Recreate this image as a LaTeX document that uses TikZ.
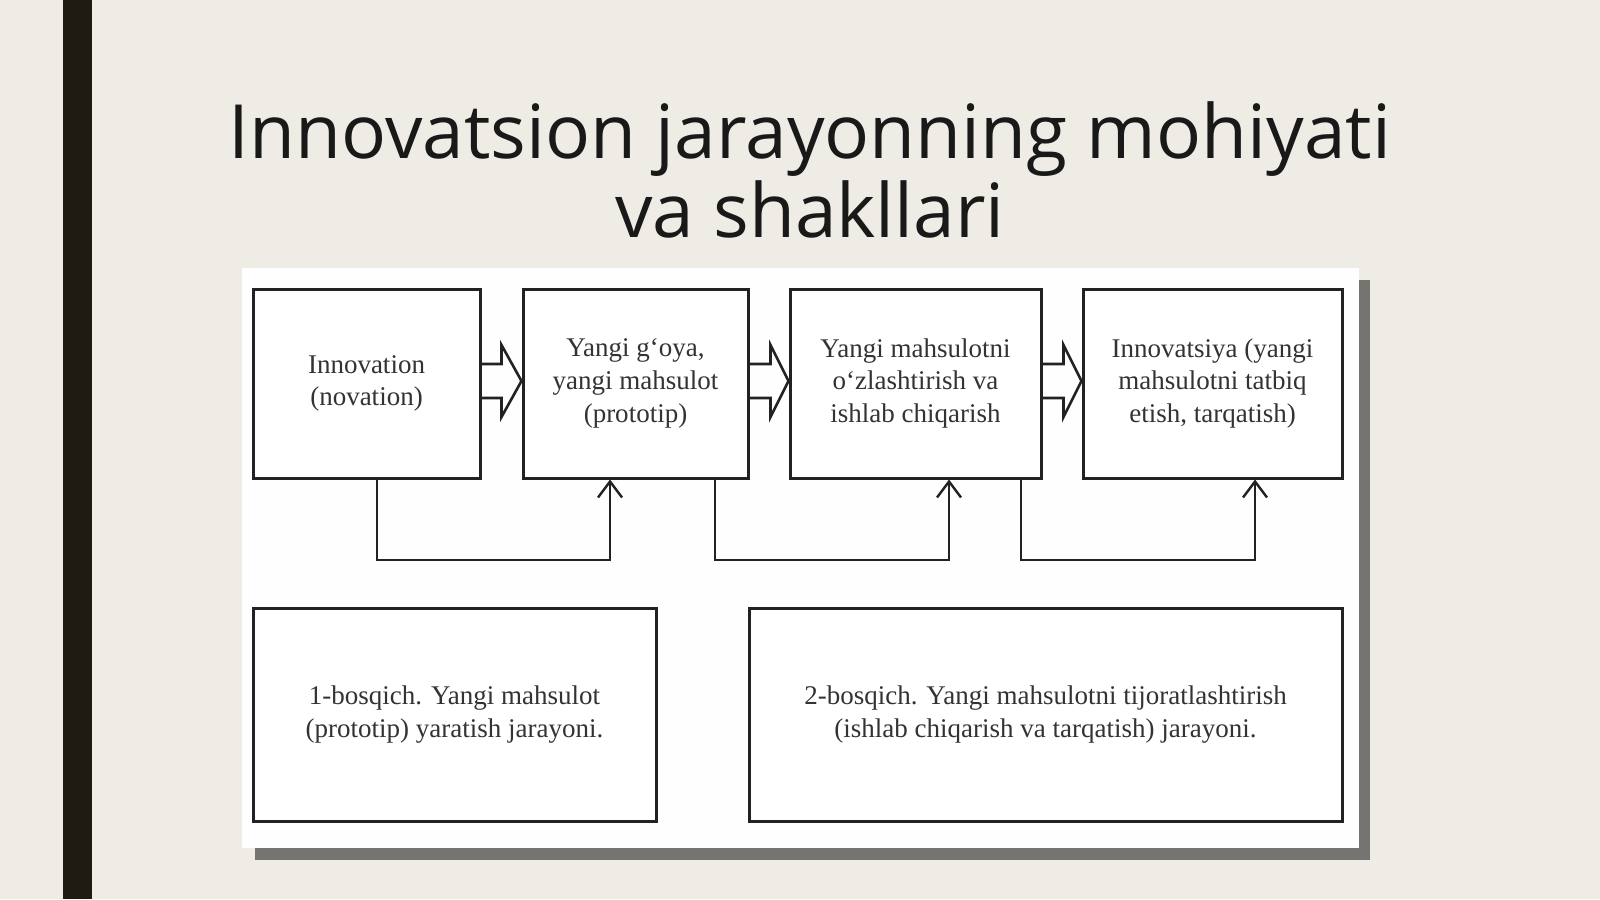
\documentclass[tikz,border=0pt]{standalone}
\usepackage{fontspec}
\setmainfont{Liberation Serif}
\newfontfamily\titlefont{Open Sans}
\usetikzlibrary{calc,arrows.meta}
\definecolor{bgc}{HTML}{EEECE4}
\definecolor{barc}{HTML}{1F1B12}
\definecolor{shadc}{HTML}{767470}
\definecolor{boxline}{HTML}{222222}
\definecolor{boxtext}{HTML}{333333}
\tikzset{
  stagebox/.style={draw=boxline,line width=1.5pt,fill=white,inner sep=0pt,
    text=boxtext,align=center,font=\fontsize{13.5}{16.4}\selectfont,
    execute at begin node={\rule{0pt}{19pt}}},
  hollow/.style={draw=boxline,line width=1.3pt,line join=miter},
  feed/.style={draw=boxline,line width=1.2pt,-{Straight Barb[length=8pt,width=12pt,line width=1.2pt]}},
  titletext/.style={font=\titlefont\fontsize{37.4}{39.5}\selectfont,text=black!90,align=center,inner sep=0pt}
}
\begin{document}
\begin{tikzpicture}[x=0.5pt,y=-0.5pt]
\useasboundingbox (0,0) rectangle (1600,899);
\fill[bgc] (0,0) rectangle (1600,899);
\fill[barc] (63,0) rectangle (92,899);
% title
\node[titletext,anchor=base] (t1) at (810,158) {Innovatsion jarayonning mohiyati};
\node[titletext,anchor=base] (t2) at (810,237) {va shakllari};
% panel and shadow
\fill[shadc] (255,280) rectangle (1370,860);
\fill[white!99!gray] (242,268) rectangle (1359,848);
% top boxes
\node[stagebox,minimum width=113.5pt,minimum height=94.5pt] (b1) at (366.5,383.5) {Innovation\\(novation)};
\node[stagebox,minimum width=112.5pt,minimum height=94.5pt] (b2) at (635.5,383.5) {Yangi g‘oya,\\yangi mahsulot\\(prototip)};
\node[stagebox,minimum width=125.5pt,minimum height=94.5pt] (b3) at (915.5,383.5) {Yangi mahsulotni\\o‘zlashtirish va\\ishlab chiqarish};
\node[stagebox,minimum width=129.5pt,minimum height=94.5pt] (b4) at (1212.5,383.5) {Innovatsiya (yangi\\mahsulotni tatbiq\\etish, tarqatish)};
% bottom boxes
\node[stagebox,minimum width=201.5pt,minimum height=106.5pt] (c1) at (454.5,714.5) {1-bosqich. Yangi mahsulot\\(prototip) yaratish jarayoni.};
\node[stagebox,minimum width=296.5pt,minimum height=106.5pt] (c2) at (1045.5,714.5) {2-bosqich. Yangi mahsulotni tijoratlashtirish\\(ishlab chiqarish va tarqatish) jarayoni.};
% hollow block arrows
\draw[hollow] ($(b1.east)+(0,-19.5)$) -- ++(20,0) -- ++(0,-19) -- ($(b2.west)+(0,-2.5)$) -- ($(b1.east)+(20,33.5)$) -- ++(0,-19) -- ++(-20,0);
\draw[hollow] ($(b2.east)+(0,-19.5)$) -- ++(21,0) -- ++(0,-19) -- ($(b3.west)+(0,-2.5)$) -- ($(b2.east)+(21,33.5)$) -- ++(0,-19) -- ++(-21,0);
\draw[hollow] ($(b3.east)+(0,-19.5)$) -- ++(21,0) -- ++(0,-19) -- ($(b4.west)+(0,-2.5)$) -- ($(b3.east)+(21,33.5)$) -- ++(0,-19) -- ++(-21,0);
% feedback connectors
\coordinate (k1a) at (377,560);
\coordinate (k1b) at (610,560);
\coordinate (k2a) at (715,560);
\coordinate (k2b) at (949,560);
\coordinate (k3a) at (1021,560);
\coordinate (k3b) at (1255,560);
\draw[feed] (b1.south -| k1a) -- (k1a) -- (k1b) -- (b2.south -| k1b);
\draw[feed] (b2.south -| k2a) -- (k2a) -- (k2b) -- (b3.south -| k2b);
\draw[feed] (b3.south -| k3a) -- (k3a) -- (k3b) -- (b4.south -| k3b);
\end{tikzpicture}
\end{document}
